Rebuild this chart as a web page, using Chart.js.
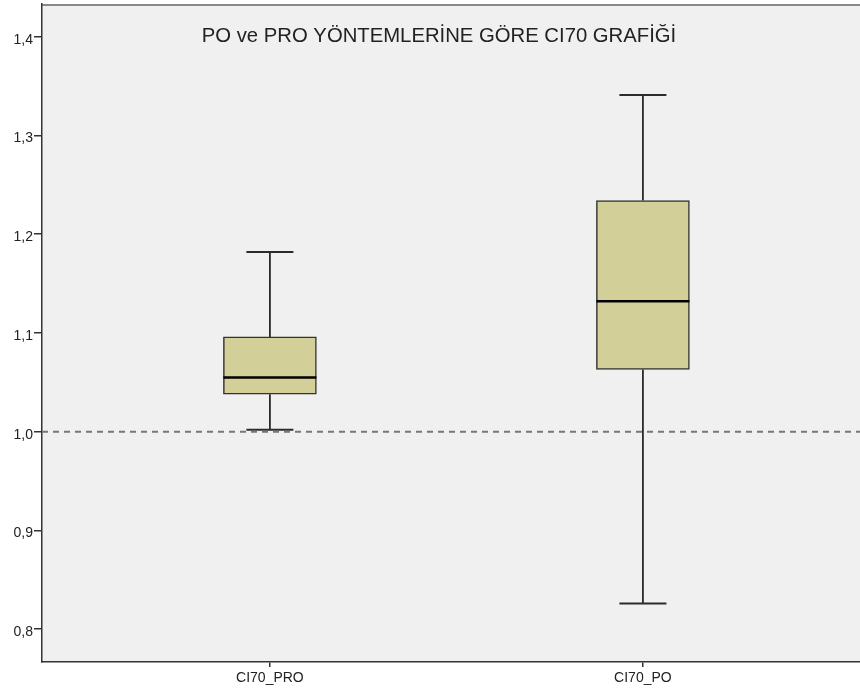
<!DOCTYPE html>
<html>
<head>
<meta charset="utf-8">
<script src="https://cdn.jsdelivr.net/npm/chart.js@4/dist/chart.umd.min.js"></script>
<style>
  html, body { margin: 0; padding: 0; background: #ffffff; }
  #wrap { width: 860px; height: 694px; position: relative; }
</style>
</head>
<body>
<div id="wrap"><canvas id="c" width="860" height="694"></canvas></div>
<script>
// ---- data ----
const categories = ['CI70_PRO', 'CI70_PO'];
const whiskerMin = [1.002, 0.826];
const q1 = [1.038, 1.063];
const median = [1.055, 1.132];
const q3 = [1.096, 1.234];
const whiskerMax = [1.182, 1.341];
const yTickValues = [0.8, 0.9, 1.0, 1.1, 1.2, 1.3, 1.4];
const referenceValue = 1.0;
const chartTitle = 'PO ve PRO YÖNTEMLERİNE GÖRE CI70 GRAFİĞİ';

// ---- styles ----
const FONT = "'Liberation Sans', Arial, sans-serif";
const BOX_FILL = '#d3cf98';
const BOX_EDGE = '#333333';
const CAP_HALF = 23.5;

const boxPlugin = {
  id: 'boxPlugin',
  beforeDraw(chart) {
    const { ctx, chartArea: a } = chart;
    ctx.save();
    ctx.fillStyle = '#f0f0f0';
    ctx.fillRect(a.left, a.top, a.right - a.left, a.bottom - a.top);
    ctx.strokeStyle = '#888888';
    ctx.lineWidth = 2;
    ctx.beginPath();
    ctx.moveTo(a.left, a.top + 1);
    ctx.lineTo(a.right, a.top + 1);
    ctx.stroke();
    ctx.restore();
  },
  beforeDatasetsDraw(chart) {
    const { ctx } = chart;
    const xs = chart.scales.x, ys = chart.scales.y;
    ctx.save();
    ctx.strokeStyle = '#2b2b2b';
    categories.forEach((c, i) => {
      const x = xs.getPixelForValue(i);
      ctx.lineWidth = 1.8;
      ctx.beginPath();
      ctx.moveTo(x, ys.getPixelForValue(q3[i]));
      ctx.lineTo(x, ys.getPixelForValue(whiskerMax[i]));
      ctx.moveTo(x, ys.getPixelForValue(q1[i]));
      ctx.lineTo(x, ys.getPixelForValue(whiskerMin[i]));
      ctx.stroke();
      ctx.lineWidth = 2;
      ctx.beginPath();
      const yMax = ys.getPixelForValue(whiskerMax[i]);
      const yMin = ys.getPixelForValue(whiskerMin[i]);
      ctx.moveTo(x - CAP_HALF, yMax); ctx.lineTo(x + CAP_HALF, yMax);
      ctx.moveTo(x - CAP_HALF, yMin); ctx.lineTo(x + CAP_HALF, yMin);
      ctx.stroke();
    });
    ctx.restore();
  },
  afterDatasetsDraw(chart) {
    const { ctx, chartArea: a } = chart;
    const ys = chart.scales.y;
    const meta = chart.getDatasetMeta(0);
    ctx.save();
    ctx.strokeStyle = '#000000';
    ctx.lineWidth = 2.5;
    meta.data.forEach((bar, i) => {
      const half = bar.width / 2;
      const y = ys.getPixelForValue(median[i]);
      ctx.beginPath();
      ctx.moveTo(bar.x - half, y);
      ctx.lineTo(bar.x + half, y);
      ctx.stroke();
    });
    const yr = ys.getPixelForValue(referenceValue);
    ctx.strokeStyle = '#777777';
    ctx.lineWidth = 2;
    ctx.setLineDash([6, 5]);
    ctx.beginPath();
    ctx.moveTo(a.left, yr);
    ctx.lineTo(a.right, yr);
    ctx.stroke();
    ctx.setLineDash([]);
    ctx.fillStyle = '#222222';
    ctx.font = '20.3px ' + FONT;
    ctx.textAlign = 'center';
    ctx.textBaseline = 'middle';
    ctx.fillText(chartTitle, a.left + 397, a.top + 32);
    ctx.restore();
  }
};

new Chart(document.getElementById('c'), {
  type: 'bar',
  data: {
    datasets: [{
      data: categories.map((c, i) => ({ x: i, y: [q1[i], q3[i]] })),
      backgroundColor: BOX_FILL,
      borderColor: BOX_EDGE,
      borderWidth: 1.5,
      borderSkipped: false,
      barThickness: 93
    }]
  },
  options: {
    responsive: false,
    animation: false,
    layout: { padding: { top: 4, right: 0, left: 0, bottom: 0 } },
    plugins: { legend: { display: false }, tooltip: { enabled: false }, title: { display: false } },
    scales: {
      x: {
        type: 'linear',
        offset: false,
        min: -0.611,
        max: 1.582,
        afterBuildTicks(s) { s.ticks = categories.map((c, i) => ({ value: i })); },
        afterFit(s) { s.height = 32; s.paddingLeft = 0; s.paddingRight = 0; },
        ticks: {
          callback: (v) => categories[v] ?? '',
          font: { family: FONT, size: 14 },
          color: '#222222',
          padding: 3,
          maxRotation: 0,
          autoSkip: false
        },
        grid: { offset: false, drawOnChartArea: false, drawTicks: true, tickLength: 5, color: '#333333', lineWidth: 1.5 },
        border: { display: true, color: '#333333', width: 1.5 }
      },
      y: {
        type: 'linear',
        min: 0.7668,
        max: 1.4331,
        afterBuildTicks(s) { s.ticks = yTickValues.map(v => ({ value: v })); },
        afterFit(s) { s.width = 42; s.paddingTop = 0; s.paddingBottom = 0; },
        ticks: {
          callback: (v) => v.toFixed(1).replace('.', ','),
          font: { family: FONT, size: 14 },
          color: '#222222',
          padding: 1,
          labelOffset: 3
        },
        grid: { drawOnChartArea: false, drawTicks: true, tickLength: 8, color: '#333333', lineWidth: 1.5 },
        border: { display: true, color: '#333333', width: 1.5 }
      }
    }
  },
  plugins: [boxPlugin]
});
</script>
</body>
</html>
